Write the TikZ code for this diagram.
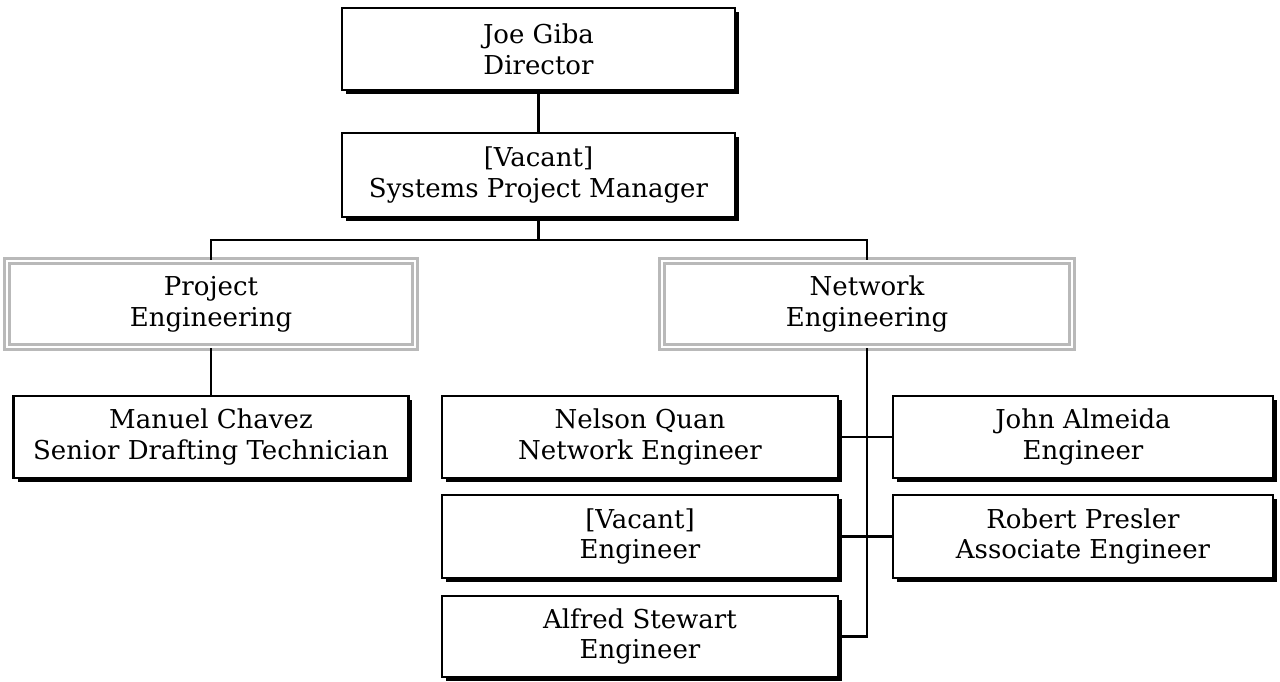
\documentclass[tikz,border=0pt]{standalone}
\usepackage{fontspec}
\setmainfont{DejaVu Serif}
\usetikzlibrary{shadows}

\begin{document}
\begin{tikzpicture}[x=.02cm,y=-.02cm,
  post/.style={draw,line width=1.4pt,fill=white,align=center,inner sep=0pt,
    font=\fontsize{14.8}{17.5}\selectfont,
    drop shadow={shadow xshift=.08cm,shadow yshift=-.08cm,fill=black,opacity=1}},
  dept/.style={draw=gray!55,line width=1.4pt,double=white,double distance=1.4pt,
    fill=white,align=center,inner sep=0pt,font=\fontsize{14.8}{17.5}\selectfont},
  link/.style={line width=1.5pt}]
 \path[use as bounding box] (0,0) rectangle (1280,681);
 % top of the chart
 \node[post,minimum width=7.86cm,minimum height=1.64cm] (director) at (538.5,49) {Joe Giba\\Director};
 \node[post,minimum width=7.86cm,minimum height=1.68cm] (spm) at (538.5,175) {[Vacant]\\Systems Project Manager};
 % the two groups
 \node[dept,minimum width=8.16cm,minimum height=1.72cm] (proj) at (211,304) {Project\\Engineering};
 \node[dept,minimum width=8.2cm,minimum height=1.72cm] (net) at (867,304) {Network\\Engineering};
 % staff
 \node[post,minimum width=7.9cm,minimum height=1.64cm] (manuel) at (211,437) {Manuel Chavez\\Senior Drafting Technician};
 \node[post,minimum width=7.92cm,minimum height=1.64cm] (nelson) at (640,437) {Nelson Quan\\Network Engineer};
 \node[post,minimum width=7.6cm,minimum height=1.64cm] (john) at (1083,437) {John Almeida\\Engineer};
 \node[post,minimum width=7.92cm,minimum height=1.66cm] (vacant) at (640,536.5) {[Vacant]\\Engineer};
 \node[post,minimum width=7.6cm,minimum height=1.66cm] (robert) at (1083,536.5) {Robert Presler\\Associate Engineer};
 \node[post,minimum width=7.92cm,minimum height=1.62cm] (alfred) at (640,636.5) {Alfred Stewart\\Engineer};
 % connectors
 \coordinate (bus) at (538.5,240);
 \coordinate (trunk) at (867,636.5);
 \draw[link] (director) -- (spm);
 \draw[link] (spm) -- (bus);
 \draw[link] (proj) |- (bus) -| (net);
 \draw[link] (proj) -- (manuel);
 \draw[link] (net) -- (trunk) -- (alfred);
 \draw[link] (nelson) -- (john);
 \draw[link] (vacant) -- (robert);
\end{tikzpicture}
\end{document}
